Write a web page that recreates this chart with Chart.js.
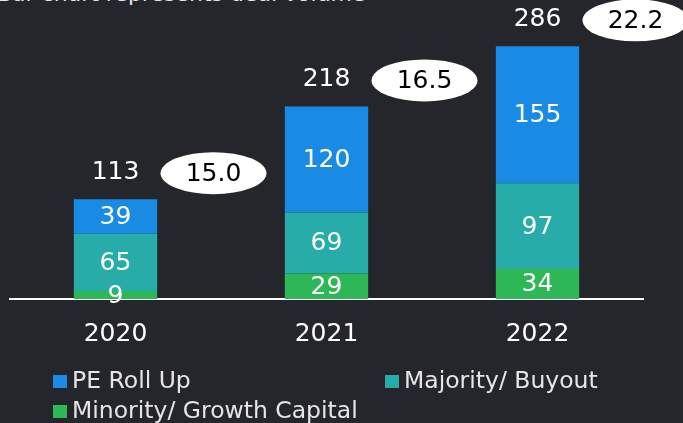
<!DOCTYPE html>
<html>
<head>
<meta charset="utf-8">
<script src="https://cdn.jsdelivr.net/npm/chart.js@4.4.0/dist/chart.umd.min.js"></script>
<style>
  body { margin: 0; background: #25262b; width: 683px; height: 423px; overflow: hidden; position: relative; font-family: "DejaVu Sans", sans-serif; }
  #title { position: absolute; left: -3px; top: -19px; color: #e6e6e6; font-size: 22px; white-space: nowrap; }
  canvas { position: absolute; left: 0; top: 0; }
  #legend { position: absolute; left: 0; top: 0; width: 683px; height: 423px; color: #e6e6e6; font-size: 23.5px; }
  .item { position: absolute; white-space: nowrap; line-height: 26px; }
  .box { display: inline-block; width: 14px; height: 13px; margin-right: 5px; vertical-align: 0px; }
</style>
</head>
<body>
<div id="title">Bar chart represents deal volume</div>
<canvas id="chart" width="683" height="423"></canvas>
<div id="legend"></div>
<script>
// deal counts by year
const years = ['2020', '2021', '2022'];
const peRollUp = [39, 120, 155];
const majorityBuyout = [65, 69, 97];
const minorityGrowth = [9, 29, 34];
// values shown in the white ovals
const ovalValues = [15.0, 16.5, 22.2];

const seriesNames = ['PE Roll Up', 'Majority/ Buyout', 'Minority/ Growth Capital'];
const seriesColors = ['#1a8be5', '#27aca9', '#2db757'];

const labelFont = '25px "DejaVu Sans", sans-serif';

const labelsPlugin = {
  id: 'labels',
  afterDatasetsDraw(chart) {
    const ctx = chart.ctx;
    ctx.save();
    ctx.font = labelFont;
    ctx.textAlign = 'center';
    ctx.textBaseline = 'middle';
    ctx.fillStyle = '#ffffff';
    chart.data.datasets.forEach((ds, i) => {
      chart.getDatasetMeta(i).data.forEach((bar, j) => {
        ctx.fillText(ds.data[j], bar.x, (bar.y + bar.base) / 2 + 1);
      });
    });
    // totals and ovals
    const topMeta = chart.getDatasetMeta(2); // PE Roll Up is the top stack
    topMeta.data.forEach((bar, j) => {
      const total = peRollUp[j] + majorityBuyout[j] + minorityGrowth[j];
      const y = bar.y - 27;
      ctx.fillStyle = '#ffffff';
      ctx.fillText(total, bar.x, y);
      const ox = bar.x + 98;
      ctx.beginPath();
      ctx.ellipse(ox, y + 1, 53, 21, 0, 0, Math.PI * 2);
      ctx.fill();
      ctx.fillStyle = '#000000';
      ctx.fillText(ovalValues[j].toFixed(1), ox, y + 2);
    });
    ctx.restore();
  }
};

new Chart(document.getElementById('chart'), {
  type: 'bar',
  data: {
    labels: years,
    datasets: [
      { label: seriesNames[2], data: minorityGrowth, backgroundColor: seriesColors[2] },
      { label: seriesNames[1], data: majorityBuyout, backgroundColor: seriesColors[1] },
      { label: seriesNames[0], data: peRollUp, backgroundColor: seriesColors[0] }
    ]
  },
  options: {
    responsive: false,
    animation: false,
    layout: { padding: { left: 10, right: 40, top: 34, bottom: 54 } },
    datasets: { bar: { categoryPercentage: 1, barPercentage: 0.395 } },
    plugins: { legend: { display: false }, tooltip: { enabled: false } },
    scales: {
      x: {
        stacked: true,
        grid: { display: false, drawTicks: false },
        border: { display: true, color: '#ffffff', width: 2 },
        ticks: { color: '#ffffff', font: { family: '"DejaVu Sans", sans-serif', size: 25 }, padding: 20 }
      },
      y: {
        stacked: true,
        display: false,
        min: 0,
        max: 300
      }
    }
  },
  plugins: [labelsPlugin]
});

// legend
const legendPos = [[53, 367], [385, 367], [53, 397]];
const legend = document.getElementById('legend');
seriesNames.forEach((name, i) => {
  const el = document.createElement('div');
  el.className = 'item';
  el.style.left = legendPos[i][0] + 'px';
  el.style.top = legendPos[i][1] + 'px';
  el.innerHTML = '<span class="box" style="background:' + seriesColors[i] + '"></span>' + name;
  legend.appendChild(el);
});
</script>
</body>
</html>
